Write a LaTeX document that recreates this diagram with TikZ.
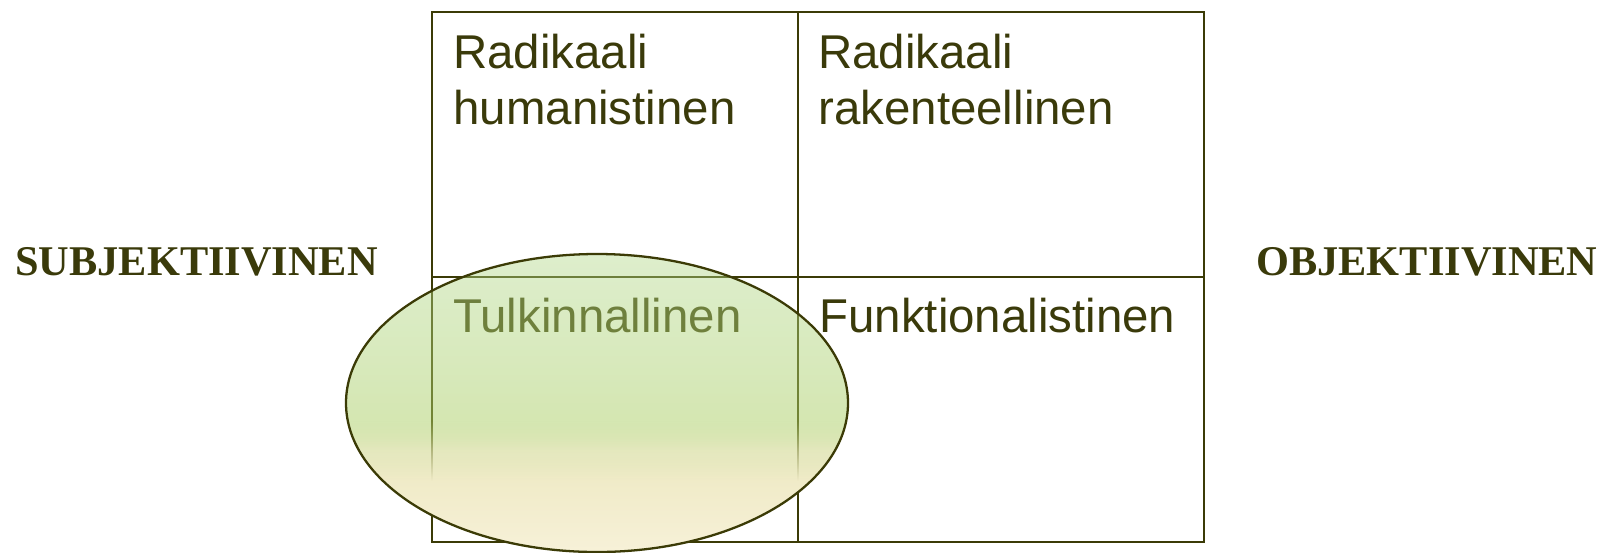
\documentclass[tikz,border=0pt]{standalone}
\usepackage{fontspec}
\setmainfont{Liberation Serif}
\setsansfont{Liberation Sans}
\usepackage{xcolor}
\usetikzlibrary{positioning,fadings,shapes.geometric}

\definecolor{oliveline}{RGB}{59,59,6}
\definecolor{olivetext}{RGB}{58,58,10}
\definecolor{ellgreen}{RGB}{176,215,136}
\definecolor{ellmid}{RGB}{170,206,100}
\definecolor{ellblend}{RGB}{219,224,168}
\definecolor{ellwarm}{RGB}{240,235,200}
\definecolor{ellcream}{RGB}{247,241,216}

% colour and opacity of the lens, bottom (0bp) to top (100bp)
\pgfdeclareverticalshading{lenscolour}{100bp}{color(0bp)=(ellcream); color(25bp)=(ellcream);
  color(37bp)=(ellwarm); color(42bp)=(ellblend); color(47bp)=(ellmid); color(75bp)=(ellgreen);
  color(100bp)=(ellgreen)}
\pgfdeclareverticalshading{lensalpha}{100bp}{color(0bp)=(transparent!0); color(25bp)=(transparent!0);
  color(37bp)=(transparent!0); color(42bp)=(transparent!25); color(47bp)=(transparent!50);
  color(75bp)=(transparent!57); color(100bp)=(transparent!57)}
\pgfdeclarefading{ellfade}{\pgfuseshading{lensalpha}}

\begin{document}
\begin{tikzpicture}[x=0.02cm, y=-0.02cm,
                    grid/.style={line width=1.6pt, oliveline},
                    cell/.style={anchor=base west, inner sep=0pt, align=left,
                                 font=\sffamily\fontsize{27}{31.75}\selectfont, text=olivetext},
                    side/.style={anchor=base west, inner sep=0pt,
                                 font=\rmfamily\bfseries\fontsize{24.1}{29}\selectfont, text=olivetext},
                    lens/.style={ellipse, inner sep=0pt,
                                 minimum width=10.04cm, minimum height=5.96cm,
                                 shading=lenscolour, path fading=ellfade},
                    lensrim/.style={draw=oliveline, line width=1.3pt},
                   ]

\useasboundingbox (0,0) rectangle (1604,552);

% four field grid
\coordinate (nw) at (432,12);
\coordinate (ne) at (1204,12);
\coordinate (sw) at (432,542);
\coordinate (se) at (1204,542);
\coordinate (n) at (798,12);
\coordinate (s) at (798,542);
\coordinate (w) at (432,277);
\coordinate (e) at (1204,277);

\draw[grid] (nw) -- (ne) -- (se) -- (sw) -- cycle;
\draw[grid] (n) -- (s);
\draw[grid] (w) -- (e);

\node[cell] (radhum) at (453,124) {Radikaali\\humanistinen};
\node[cell] (radrak) at (818,124) {Radikaali\\rakenteellinen};
\node[cell] (tulk) at (453,332) {Tulkinnallinen};
\node[cell] (funk) at (819,332) {Funktionalistinen};

% the lens over the interpretive field
\node[lens] (tulkell) at (597,403) {};
\draw[lensrim] (tulkell.center) ellipse [x radius=251, y radius=149];

\node[side] (subj) at (15,275) {SUBJEKTIIVINEN};
\node[side] (obj) at (1256,275) {OBJEKTIIVINEN};

\end{tikzpicture}
\end{document}
